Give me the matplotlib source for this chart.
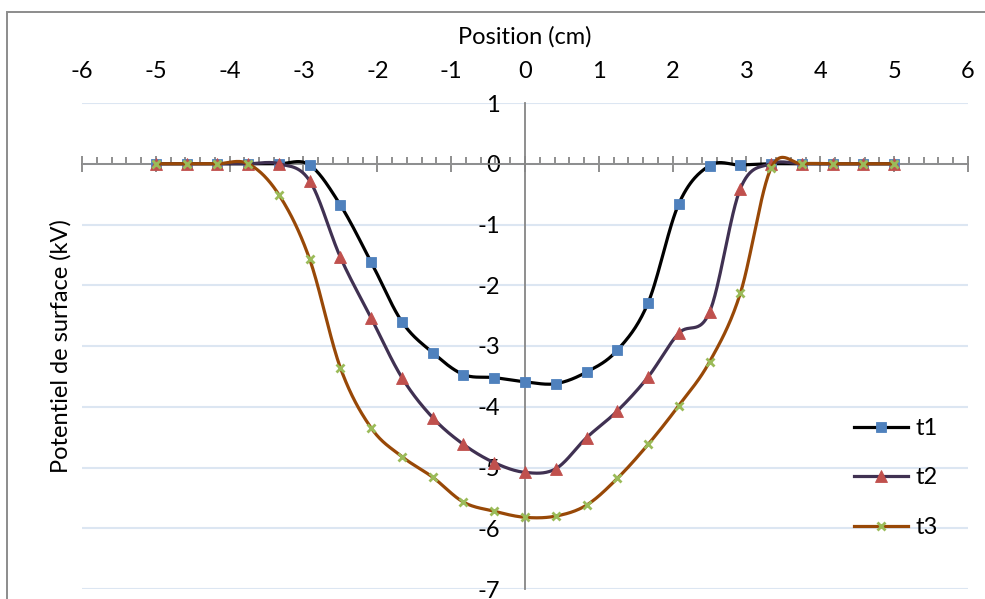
import numpy as np
import matplotlib
matplotlib.use("Agg")
import matplotlib.pyplot as plt
from matplotlib.lines import Line2D
from matplotlib.patches import Rectangle

plt.rcParams["font.family"] = ["Lato", "DejaVu Sans"]

# Measurement positions along the sample (cm)
position = [-5.0, -4.583, -4.167, -3.75, -3.333, -2.917, -2.5, -2.083, -1.667,
            -1.25, -0.833, -0.417, 0.0, 0.417, 0.833, 1.25, 1.667, 2.083,
            2.5, 2.917, 3.333, 3.75, 4.167, 4.583, 5.0]

# Surface potential (kV) at three instants
t1 = [0, 0, 0, 0, 0, -0.02, -0.68, -1.62, -2.60, -3.11, -3.47, -3.52, -3.59,
      -3.62, -3.43, -3.07, -2.29, -0.66, -0.03, -0.02, 0, 0, 0, 0, 0]
t2 = [0, 0, 0, 0, 0, -0.28, -1.54, -2.54, -3.52, -4.18, -4.62, -4.92, -5.08,
      -5.02, -4.51, -4.07, -3.51, -2.79, -2.44, -0.41, 0, 0, 0, 0, 0]
t3 = [0, 0, 0, 0, -0.51, -1.57, -3.36, -4.35, -4.82, -5.16, -5.57, -5.72,
      -5.82, -5.80, -5.62, -5.18, -4.62, -3.98, -3.26, -2.13, -0.07, 0, 0, 0, 0]

series_names = ["t1", "t2", "t3"]
x_ticks = list(range(-6, 7))
y_ticks = list(range(-7, 2))

FS = 17


def smooth_curve(x, y, n=30):
    """Spreadsheet-style smoothed line: cubic Bezier segments through the points."""
    pts = np.column_stack([x, y]).astype(float)
    P = np.vstack([pts[0], pts, pts[-1]])
    t = np.linspace(0.0, 1.0, n)[:, None]
    parts = []
    for i in range(1, len(P) - 2):
        p0, p1 = P[i], P[i + 1]
        c1 = p0 + (P[i + 1] - P[i - 1]) / 6.0
        c2 = p1 - (P[i + 2] - P[i]) / 6.0
        seg = ((1 - t) ** 3) * p0 + 3 * ((1 - t) ** 2) * t * c1 \
            + 3 * (1 - t) * (t ** 2) * c2 + (t ** 3) * p1
        parts.append(seg if i == 1 else seg[1:])
    curve = np.vstack(parts)
    return curve[:, 0], curve[:, 1]


W, H = 985, 599
fig = plt.figure(figsize=(W / 100, H / 100), dpi=100)
fig.patch.set_facecolor("white")

# chart frame
fig.patches.append(Rectangle((7 / W, -0.05), 1.2, (H - 12) / H + 0.05,
                             transform=fig.transFigure, fill=False,
                             edgecolor="#8C8C8C", lw=1.4))

ax = fig.add_axes([82 / W, 1 - 589 / H, (968 - 82) / W, (589 - 103) / H])
ax.set_xlim(-6, 6)
ax.set_ylim(-7, 1)

styles = [
    dict(line="#000000", marker="s", mfc="#4F81BD", ms=7.5, mew=0.6),
    dict(line="#403152", marker="^", mfc="#C0504D", ms=8.5, mew=0.6),
    dict(line="#984807", marker="x", mfc="#9BBB59", ms=6.0, mew=2.0),
]

handles = []
for k, (vals, st, name) in enumerate(zip([t1, t2, t3], styles, series_names)):
    sx, sy = smooth_curve(position, vals)
    ax.plot(sx, sy, color=st["line"], lw=2.3, solid_capstyle="round",
            zorder=3 + 2 * k)
    ax.plot(position, vals, linestyle="none", marker=st["marker"],
            markerfacecolor=st["mfc"], markeredgecolor=st["mfc"],
            markersize=st["ms"], markeredgewidth=st["mew"], zorder=4 + 2 * k)
    handles.append(Line2D([], [], color=st["line"], lw=2.3,
                          marker=st["marker"], markerfacecolor=st["mfc"],
                          markeredgecolor=st["mfc"], markersize=st["ms"],
                          markeredgewidth=st["mew"]))

# axes crossing at the origin
for side in ("top", "right"):
    ax.spines[side].set_visible(False)
ax.spines["bottom"].set_position(("data", 0))
ax.spines["left"].set_position(("data", 0))
for side in ("bottom", "left"):
    ax.spines[side].set_color("#868686")
    ax.spines[side].set_linewidth(1.3)
    ax.spines[side].set_zorder(2.5)

ax.set_xticks(x_ticks)
ax.set_xticks(np.arange(-6, 6.01, 0.2), minor=True)
ax.set_xticklabels([str(v) for v in x_ticks])
ax.xaxis.set_ticks_position("bottom")
ax.tick_params(axis="x", which="major", direction="inout", length=11,
               width=1.3, color="#868686", labeltop=True, labelbottom=False,
               pad=9.5, labelsize=FS, labelcolor="black")
ax.tick_params(axis="x", which="minor", direction="in", length=5,
               width=1.3, color="#868686")
ax.xaxis.set_label_position("top")
ax.set_xlabel("Position (cm)", fontsize=FS, labelpad=13)

ax.set_yticks(y_ticks)
ax.set_yticklabels([str(v) for v in y_ticks])
ax.tick_params(axis="y", length=0, pad=18, labelsize=FS)
ax.set_ylabel("Potentiel de surface (kV)", fontsize=FS)
ax.yaxis.set_label_coords(-0.012, 0.5)

ax.yaxis.grid(True, color="#DCE6F2", lw=1.5)
ax.set_axisbelow(True)

leg = ax.legend(handles, series_names, loc="center left",
                bbox_to_anchor=((854 - 82) / 886, (589 - 478) / 486),
                frameon=False, fontsize=FS, handlelength=2.3,
                handletextpad=0.3, labelspacing=1.2, borderpad=0,
                borderaxespad=0)

fig.savefig("out.png", dpi=100)
